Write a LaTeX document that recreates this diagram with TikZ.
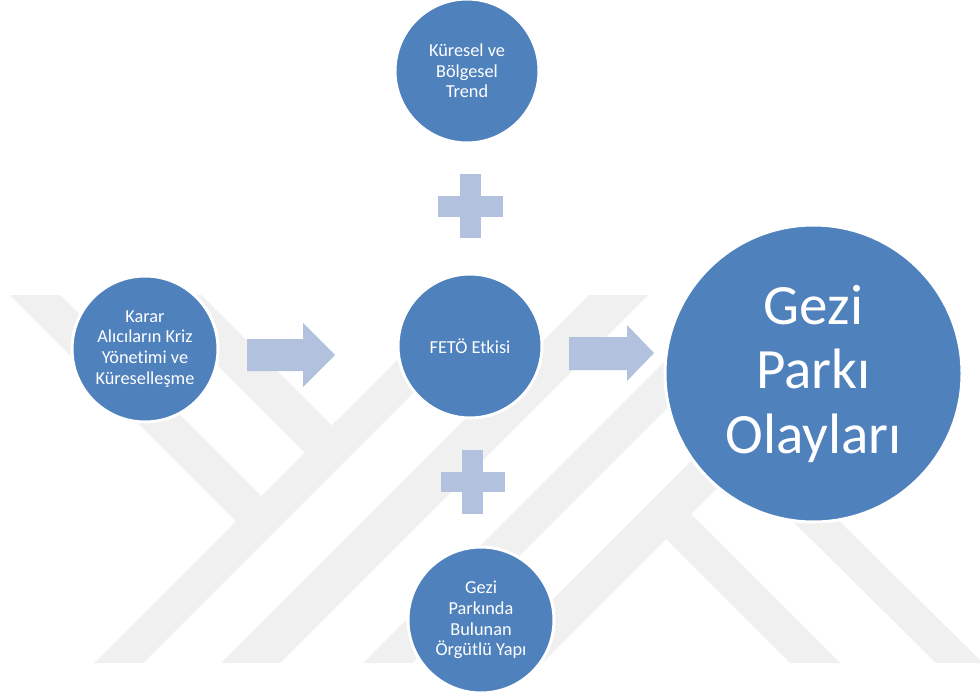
\documentclass[tikz,border=0pt]{standalone}
\usepackage{fontspec}
\setmainfont{Carlito}[Ligatures={NoCommon}]
\definecolor{nodeblue}{HTML}{4F81BD}
\definecolor{lightarrow}{HTML}{B2C2DE}
\definecolor{wmgrey}{HTML}{F0F0F0}
\tikzset{
  bubble/.style={circle, fill=nodeblue, draw=white, line width=3pt, inner sep=0pt,
    text=white, align=center, font=\fontsize{18.3}{20.7}\selectfont},
  bigbubble/.style={bubble, font=\fontsize{57}{64.5}\selectfont},
  blockfill/.style={fill=lightarrow},
  wmband/.style={fill=wmgrey}
}
\begin{document}
\begin{tikzpicture}[x=1pt,y=-1pt]
\useasboundingbox (0,0) rectangle (980,695);
\fill[white] (0,0) rectangle (980,695);
% watermark bands
\fill[wmband] (462,295) -- (511,295) -- (143,663) -- (94,663) -- cycle;
\fill[wmband] (589,295) -- (648,295) -- (280,663) -- (221,663) -- cycle;
\fill[wmband] (731,295) -- (780,295) -- (412,663) -- (363,663) -- cycle;
\fill[wmband] (857,295) -- (910,295) -- (542,663) -- (489,663) -- cycle;
\fill[wmband] (10,295) -- (60,295) -- (261,496) -- (236,521) -- cycle;
\fill[wmband] (147,295) -- (201,295) -- (331.5,425.5) -- (304.5,452.5) -- cycle;
\fill[wmband] (691,514) -- (840,663) -- (790,663) -- (666,539) -- cycle;
\fill[wmband] (761,444) -- (983,663) -- (936,663) -- (738,467) -- cycle;
% circles
\node[bubble, minimum size=144pt] (trend) at (467,71) {Küresel ve\\Bölgesel\\Trend};
\node[bubble, minimum size=146pt] (karar) at (145,349) {Karar\\Alıcıların Kriz\\Yönetimi ve\\Küreselleşme};
\node[bubble, minimum size=144pt] (feto) at (470,346) {FETÖ Etkisi};
\node[bubble, minimum size=146pt] (orgut) at (481,620) {Gezi\\Parkında\\Bulunan\\Örgütlü Yapı};
\node[bigbubble, minimum size=297pt] (gezi) at (813.5,373.5) {Gezi\\Parkı\\Olayları};
% block arrows
\fill[blockfill] (247,339) -- (303,339) -- (303,323) -- (335,355) -- (303,387) -- (303,371) -- (247,371) -- cycle;
\fill[blockfill] (569,337) -- (627,337) -- (627,325) -- (654,353) -- (627,381) -- (627,370) -- (569,370) -- cycle;
% plus signs
\fill[blockfill] (460,174) rectangle (481,238);
\fill[blockfill] (438,196) rectangle (503,217);
\fill[blockfill] (462,450) rectangle (482.5,514);
\fill[blockfill] (441,472) rectangle (505,492);
\end{tikzpicture}
\end{document}
